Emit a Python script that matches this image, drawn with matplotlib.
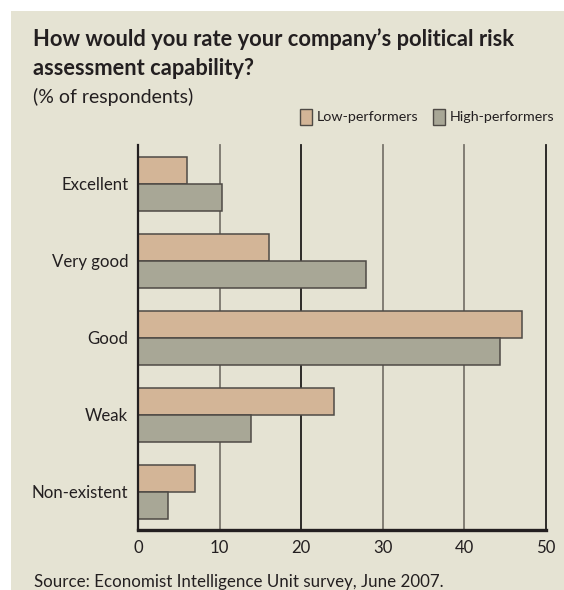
import matplotlib
matplotlib.use('Agg')
import matplotlib.pyplot as plt
from matplotlib import font_manager
from matplotlib.patches import Rectangle
import numpy as np

# Chart data
categories = ['Excellent', 'Very good', 'Good', 'Weak', 'Non-existent']
low_performers = [6.0, 16.0, 47.0, 24.0, 7.0]
high_performers = [10.3, 27.9, 44.4, 13.8, 3.7]
x_ticks = [0, 10, 20, 30, 40, 50]
series_names = ['Low-performers', 'High-performers']

title_lines = ["How would you rate your company\u2019s political risk",
               "assessment capability?"]
subtitle = "(% of respondents)"
source = "Source: Economist Intelligence Unit survey, June 2007."

# Look
W, H = 564, 590
bg = '#e5e3d3'
low_color = '#d3b597'
high_color = '#a8a796'
edge_color = '#4e4a45'
text_color = '#231f20'

installed = {f.name for f in font_manager.fontManager.ttflist}
font = 'Liberation Sans Narrow' if 'Liberation Sans Narrow' in installed else 'Lato'
plt.rcParams['font.family'] = [font, 'DejaVu Sans']


def fx(x):
    return x / W


def fy(y):
    return 1 - y / H


fig = plt.figure(figsize=(W / 100, H / 100), dpi=100, facecolor='white')
fig.add_artist(Rectangle((fx(11), 0), 1, 1 - 11 / H, transform=fig.transFigure,
                         facecolor=bg, edgecolor='none', zorder=-10))


def fit(t, width_px):
    # scale a text so it is as wide as in the reference
    fig.canvas.draw()
    w = t.get_window_extent().width
    t.set_fontsize(t.get_fontsize() * width_px / w)
    return t.get_fontsize()


# Title, subtitle, source
t1 = fig.text(fx(33), fy(46), title_lines[0], fontsize=16, fontweight='bold',
              color=text_color, va='baseline', ha='left')
tsize = fit(t1, 480)
fig.text(fx(33), fy(75), title_lines[1], fontsize=tsize, fontweight='bold',
         color=text_color, va='baseline', ha='left')
st = fig.text(fx(33), fy(103), subtitle, fontsize=13, color=text_color,
              va='baseline', ha='left')
fit(st, 160)
src = fig.text(fx(34), fy(587), source, fontsize=12, color=text_color,
               va='baseline', ha='left')
fit(src, 406)

# Legend drawn by hand at the top right
lg_hi = fig.text(fx(450), fy(117), series_names[1], fontsize=11, color=text_color,
                 va='center', ha='left')
lsize = fit(lg_hi, 105)
fig.text(fx(317), fy(117), series_names[0], fontsize=lsize, color=text_color,
         va='center', ha='left')
for x0, col in [(300, low_color), (433, high_color)]:
    fig.add_artist(Rectangle((fx(x0), fy(125)), 12 / W, 16 / H, transform=fig.transFigure,
                             facecolor=col, edgecolor=edge_color, linewidth=1))

# label size from the widest category label
probe = fig.text(0, 0, 'Non-existent', fontsize=12)
label_size = fit(probe, 96)
probe.remove()

# Bars
ax = fig.add_axes([fx(138), fy(530), (546 - 138) / W, (530 - 145) / H])
ax.set_facecolor('none')
y = np.arange(len(categories))
h = 27 / 77
ax.barh(y - h / 2, low_performers, height=h, color=low_color,
        edgecolor=edge_color, linewidth=1.1, zorder=3)
ax.barh(y + h / 2, high_performers, height=h, color=high_color,
        edgecolor=edge_color, linewidth=1.1, zorder=3)

ax.set_xlim(0, 50)
ax.set_ylim(len(categories) - 0.5, -0.5)

# vertical grid lines
for xt in x_ticks[1:]:
    col = '#1e1c1a' if xt in (20, 50) else '#7a766c'
    ax.axvline(xt, color=col, linewidth=1.3, zorder=1, clip_on=False)

ax.set_xticks(x_ticks)
ax.set_xticklabels([str(v) for v in x_ticks])
ax.set_yticks(y)
ax.set_yticklabels(categories)
ax.tick_params(axis='x', length=0, pad=7, labelsize=label_size, colors=text_color)
ax.tick_params(axis='y', length=0, pad=7, labelsize=label_size, colors=text_color)

for s in ['top', 'right']:
    ax.spines[s].set_visible(False)
ax.spines['left'].set_color(text_color)
ax.spines['left'].set_linewidth(1.6)
ax.spines['bottom'].set_color(text_color)
ax.spines['bottom'].set_linewidth(2.4)
ax.spines['left'].set_zorder(4)

fig.savefig('out.png', dpi=100, facecolor='white')
